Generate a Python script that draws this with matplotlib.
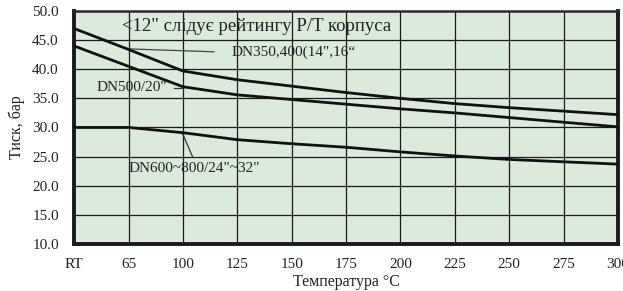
import numpy as np
import matplotlib.pyplot as plt

plt.rcParams['font.family'] = ['Liberation Serif', 'DejaVu Serif']

temps = ['RT', '65', '100', '125', '150', '175', '200', '225', '250', '275', '300']
dn350_400 = [47.0, 43.4, 39.7, 38.2, 37.1, 36.0, 35.0, 34.1, 33.4, 32.8, 32.2]
dn500 = [44.0, 40.5, 37.0, 35.6, 34.8, 34.0, 33.2, 32.5, 31.7, 30.9, 30.1]
dn600_800 = [30.0, 30.0, 29.1, 27.9, 27.2, 26.6, 25.8, 25.1, 24.5, 24.1, 23.7]
y_ticks = [10, 15, 20, 25, 30, 35, 40, 45, 50]

x = np.arange(len(temps))

fig = plt.figure(figsize=(6.23, 2.91), dpi=100)
ax = fig.add_axes([0.119, 0.162, 0.873, 0.8])
ax.set_facecolor('#dbeadb')

for v in x[1:-1]:
  ax.axvline(v, color='#1a1a1a', lw=0.9, zorder=1)
for v in y_ticks[1:-1]:
  ax.axhline(v, color='#1a1a1a', lw=0.9, zorder=1)

for s in [dn350_400, dn500, dn600_800]:
  ax.plot(x, s, color='#111111', lw=2.0, zorder=3)

ax.set_xlim(0, 10)
ax.set_ylim(10, 50)
ax.set_xticks(x)
ax.set_xticklabels(temps)
ax.set_yticks(y_ticks)
ax.set_yticklabels(['%.1f' % t for t in y_ticks])
ax.tick_params(length=0, labelsize=11, colors='#222222')
ax.tick_params(axis='x', pad=10)
ax.tick_params(axis='y', pad=11)

for side in ['left', 'bottom', 'right']:
  ax.spines[side].set_linewidth(2.8)
  ax.spines[side].set_color('#1a1a1a')
ax.spines['top'].set_linewidth(1.8)
ax.spines['top'].set_color('#2a2a2a')

ax.set_xlabel('Температура °C', fontsize=11.5, labelpad=2, color='#222222')
ax.set_ylabel('Тиск, бар', fontsize=11.5, labelpad=5, color='#222222')

# підписи
ax.text(0.88, 47.3, '<12" слідує рейтингу P/T корпуса', fontsize=13.5, va='center', color='#222222', zorder=4)
ax.text(2.9, 43.0, 'DN350,400(14",16“', fontsize=11, va='center', color='#222222', zorder=4)
ax.plot([1.0, 2.57], [43.5, 43.0], color='#444444', lw=0.9, zorder=2)
ax.text(0.42, 36.9, 'DN500/20"', fontsize=11, va='center', color='#222222', zorder=4)
ax.plot([1.83, 2.0], [36.7, 36.7], color='#333333', lw=0.9, zorder=2)
ax.text(1.0, 23.0, 'DN600~800/24"~32"', fontsize=11, va='center', color='#222222', zorder=4)
ax.plot([2.0, 2.18], [28.8, 24.9], color='#333333', lw=0.9, zorder=2)

fig.savefig('out.png', dpi=100)
